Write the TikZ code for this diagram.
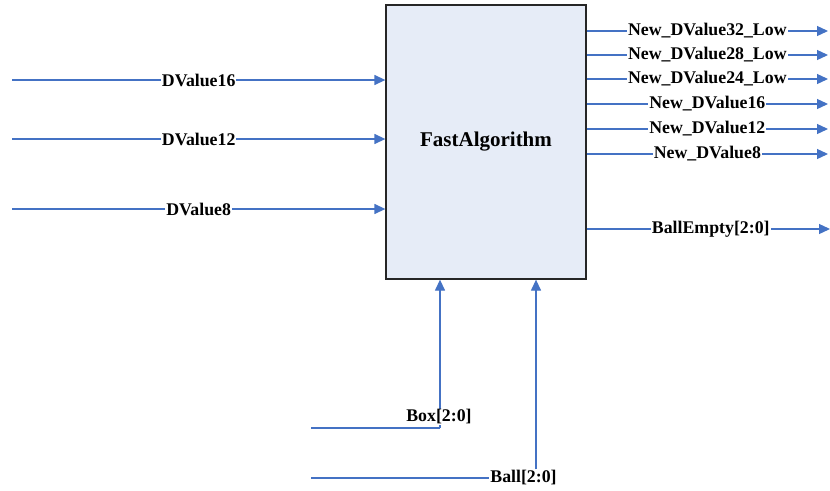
\documentclass[tikz,border=0pt]{standalone}
\usepackage{fontspec}
\setmainfont{Liberation Serif}
\usetikzlibrary{arrows.meta}
\definecolor{wirecol}{HTML}{4472C4}
\definecolor{blockfill}{HTML}{E6ECF7}
\begin{document}
\begin{tikzpicture}[x=1pt,y=-1pt,
  wire/.style={draw=wirecol,line width=1.3pt},
  sig/.style={wire,-{Triangle[length=11pt,width=10pt]}},
  lbl/.style={fill=white,inner sep=1pt,font=\fontsize{17.8}{18}\selectfont\bfseries},
  block/.style={draw=black!85,line width=1.3pt,fill=blockfill,minimum width=200pt,
    minimum height=274pt,inner sep=0pt,font=\fontsize{21}{24}\selectfont\bfseries}]
\useasboundingbox[fill=white] (0,0) rectangle (830,490);

% the processing block
\node[block] (fa) at (486,142) {FastAlgorithm};

% inputs on the left
\coordinate (in16) at (12,80);
\coordinate (in12) at (12,139);
\coordinate (in8)  at (12,209);
\draw[sig] (in16) -- node[lbl] (l16) {DValue16} (in16 -| fa.west);
\draw[sig] (in12) -- node[lbl] (l12) {DValue12} (in12 -| fa.west);
\draw[sig] (in8)  -- node[lbl] (l8)  {DValue8}  (in8 -| fa.west);

% outputs on the right
\coordinate (o32) at (828,31);
\coordinate (o28) at (828,55);
\coordinate (o24) at (828,79);
\coordinate (o16) at (828,104);
\coordinate (o12) at (828,129);
\coordinate (o8)  at (828,154);
\coordinate (oempty) at (830,229);
\draw[sig] (o32 -| fa.east) -- node[lbl] (r32) {New\_DValue32\_Low} (o32);
\draw[sig] (o28 -| fa.east) -- node[lbl] (r28) {New\_DValue28\_Low} (o28);
\draw[sig] (o24 -| fa.east) -- node[lbl] (r24) {New\_DValue24\_Low} (o24);
\draw[sig] (o16 -| fa.east) -- node[lbl] (r16) {New\_DValue16} (o16);
\draw[sig] (o12 -| fa.east) -- node[lbl] (r12) {New\_DValue12} (o12);
\draw[sig] (o8 -| fa.east)  -- node[lbl] (r8)  {New\_DValue8} (o8);
\draw[sig] (oempty -| fa.east) -- node[lbl,pos=0.51] (rempty) {BallEmpty[2:0]} (oempty);

% inputs from below
\coordinate (boxin)  at (311,428);
\coordinate (boxtap) at (440,428);
\draw[wire] (boxin) -- (boxtap);
\draw[sig] (boxtap) -- (boxtap |- fa.south);
\node[lbl] (boxlbl) at (439,417) {Box[2:0]};

\node[lbl] (balllbl) at (523.5,478) {Ball[2:0]};
\coordinate (ballin)  at (311,478);
\coordinate (balltap) at (536,478);
\draw[wire] (ballin) -- (balllbl.west);
\draw[sig] (balllbl.north -| balltap) -- (balltap |- fa.south);
\end{tikzpicture}
\end{document}
